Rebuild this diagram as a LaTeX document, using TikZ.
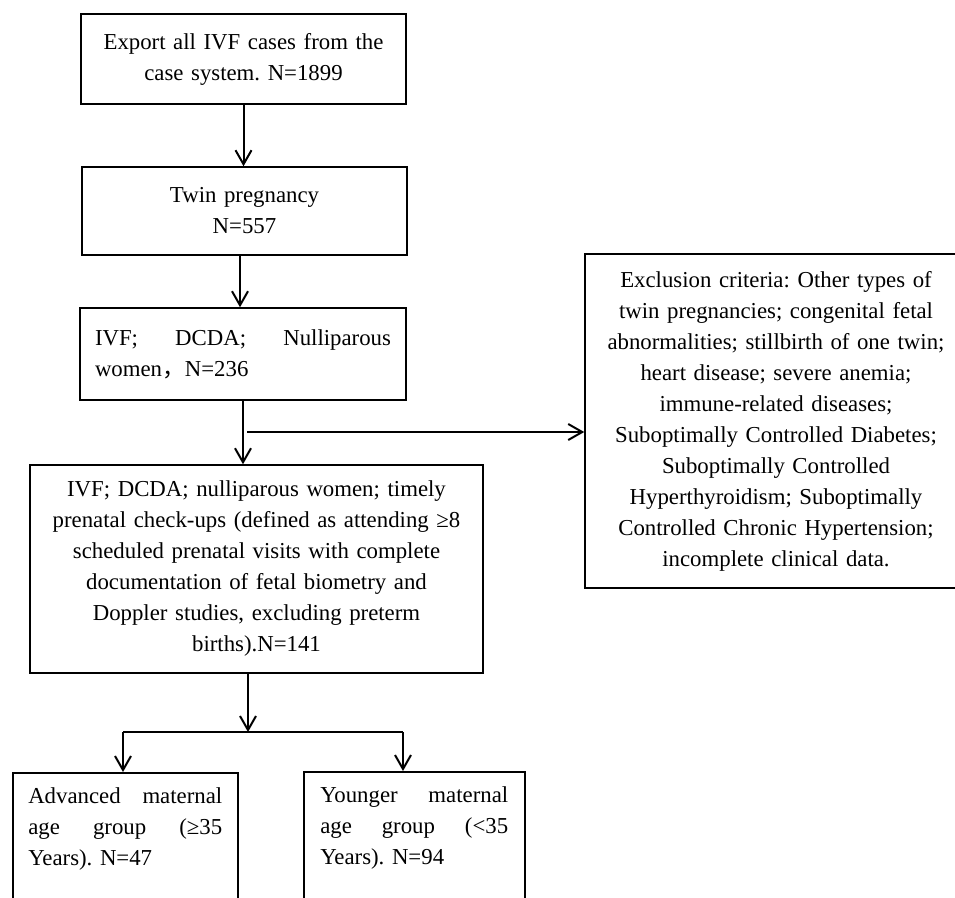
\documentclass[tikz,border=0pt]{standalone}
\usepackage{fontspec}
\setmainfont{Liberation Serif}
\newfontfamily\cjk{Noto Sans CJK SC}
\usetikzlibrary{arrows.meta}
\frenchspacing
\newcommand{\jl}[2]{\leavevmode\hbox to #1{#2}}
\begin{document}
\begin{tikzpicture}[x=1pt,y=-1pt,
  box/.style={draw, line width=1.5pt, inner xsep=10pt, inner ysep=8pt,
    font=\fontsize{22.8}{31}\selectfont},
  conn/.style={line width=2pt},
  arr/.style={line width=2pt, -{Straight Barb[length=14pt,width=16pt,line width=2pt]}}]
\useasboundingbox (0,0) rectangle (955,897);
\fill[white] (0,0) rectangle (955,897);

\node[box, minimum width=325pt, minimum height=90pt, text width=305pt, align=center] (b1) at (243.5,59)
  {Export all IVF cases from the\\ case system. N=1899};
\node[box, minimum width=325pt, minimum height=88pt, text width=305pt, align=center] (b2) at (244.5,211)
  {Twin pregnancy\\ N=557};
\node[box, minimum width=326pt, minimum height=92pt, text width=296pt, inner xsep=15pt, align=left] (b3) at (243,354)
  {\jl{296pt}{IVF;\hfill DCDA;\hfill Nulliparous}\\ women{\cjk ，}N=236};
\node[box, minimum width=453pt, minimum height=208pt, text width=430pt, align=center] (b4) at (256.5,569)
  {IVF; DCDA; nulliparous women; timely\\ prenatal check-ups (defined as attending ≥8\\ scheduled prenatal visits with complete\\ documentation of fetal biometry and\\ Doppler studies, excluding preterm\\ births).N=141};
\node[box, minimum width=382pt, minimum height=334pt, text width=362pt, align=center] (ex) at (776,421)
  {Exclusion criteria: Other types of\\ twin pregnancies; congenital fetal\\ abnormalities; stillbirth of one twin;\\ heart disease; severe anemia;\\ immune-related diseases;\\ Suboptimally Controlled Diabetes;\\ Suboptimally Controlled\\ Hyperthyroidism; Suboptimally\\ Controlled Chronic Hypertension;\\ incomplete clinical data.};
\node[box, anchor=north west, minimum width=225pt, text width=194pt, inner xsep=15pt, inner ysep=15pt, align=left] (b5) at (12,772)
  {\jl{194pt}{Advanced\hfill maternal}\\ \jl{194pt}{age\hfill group\hfill (≥35}\\ Years). N=47\\ \mbox{}\\ \mbox{}};
\node[box, anchor=north west, minimum width=221pt, text width=188pt, inner xsep=16.5pt, inner ysep=15pt, align=left] (b6) at (303,771)
  {\jl{188pt}{Younger\hfill maternal}\\ \jl{188pt}{age\hfill group\hfill (<35}\\ Years). N=94\\ \mbox{}\\ \mbox{}};

\coordinate (j1) at (247,432);
\coordinate (j2) at (248,732);
\coordinate (j5) at (123,732);
\coordinate (j6) at (403,732);

\draw[arr] (b1.south) -- (b1.south |- b2.north);
\draw[arr] ([xshift=-4.5pt]b2.south) -- ([xshift=-4.5pt]b2.south |- b3.north);
\draw[arr] (b3.south) -- (b3.south |- b4.north);
\draw[arr] (j1) -- (j1 -| ex.west);
\draw[arr] (b4.south -| j2) -- (j2);
\draw[conn] (j5) -- (j6);
\draw[arr] (j5) -- (j5 |- b5.north);
\draw[arr] (j6) -- (j6 |- b6.north);
\end{tikzpicture}
\end{document}
